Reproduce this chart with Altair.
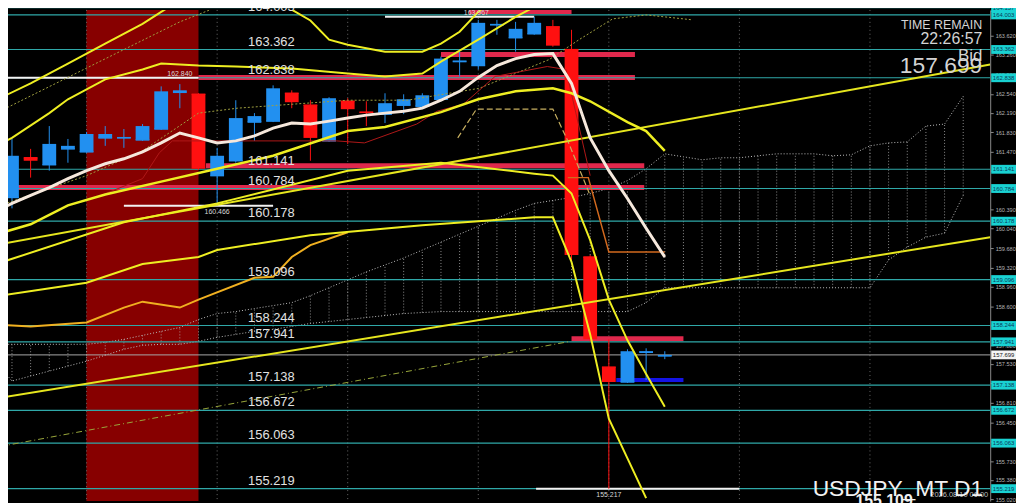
import altair as alt
import pandas as pd

# ---------------- candles (daily) ----------------
candle_idx = list(range(36))
opens = [160.618, 161.354, 161.225, 161.519, 161.464, 161.722, 161.722, 161.685, 161.887, 162.568,
         162.531, 161.023, 161.299, 162.016, 162.034, 162.550, 162.329, 161.667, 162.402, 162.200,
         162.163, 162.329, 162.310, 162.439, 163.138, 163.065, 163.819, 163.580, 163.653, 163.782,
         163.359, 159.514, 157.472, 157.196, 157.748, 157.680]
highs = [161.703, 161.519, 161.942, 161.703, 161.832, 161.942, 161.887, 161.979, 162.678, 162.720,
         162.550, 161.538, 162.421, 162.182, 162.697, 162.605, 162.421, 162.476, 162.458, 162.402,
         162.550, 162.531, 162.550, 163.230, 163.322, 163.911, 163.911, 163.874, 163.967, 163.911,
         163.727, 159.551, 157.987, 157.803, 157.821, 157.767]
lows = [160.416, 160.986, 161.115, 161.262, 161.446, 161.575, 161.538, 161.667, 161.869, 162.273,
        161.133, 160.466, 161.262, 161.667, 162.016, 162.273, 161.299, 161.648, 161.611, 161.942,
        161.998, 162.163, 162.292, 162.402, 162.862, 162.991, 163.635, 163.322, 163.635, 163.414,
        159.422, 157.950, 155.217, 157.178, 157.233, 157.620]
closes = [161.391, 161.299, 161.611, 161.575, 161.795, 161.795, 161.740, 161.942, 162.586, 162.605,
          161.151, 161.391, 162.090, 162.127, 162.642, 162.384, 161.722, 162.458, 162.255, 162.182,
          162.366, 162.439, 162.513, 163.193, 163.157, 163.856, 163.837, 163.745, 163.856, 163.433,
          159.551, 157.987, 157.196, 157.767, 157.767, 157.699]

# ---------------- indicator lines ----------------
ma_idx = list(range(-1, 36))
ma_vals = [160.342, 160.508, 160.655, 160.802, 160.967, 161.115, 161.243, 161.335, 161.464, 161.630,
           161.814, 161.722, 161.630, 161.667, 161.759, 161.905, 161.998, 161.979, 162.034, 162.090,
           162.145, 162.182, 162.218, 162.274, 162.421, 162.586, 162.844, 163.065, 163.193, 163.267,
           163.285, 162.734, 161.722, 161.115, 160.600, 160.048, 159.514]

bandC_idx = [-1, 1, 3, 5, 8, 11, 14, 18, 20, 23, 25, 27, 29, 30, 31, 33, 34, 35]
bandC_vals = [159.919, 160.121, 160.471, 160.673, 160.912, 161.151, 161.391, 161.850, 161.924, 162.200,
              162.439, 162.586, 162.642, 162.550, 162.402, 162.016, 161.850, 161.483]
bandB_idx = [-1, 6, 11, 18, 23, 28, 29, 30, 31, 32, 33, 34, 35]
bandB_vals = [159.367, 160.158, 160.508, 161.115, 161.262, 161.059, 161.023, 160.692, 159.827, 158.723,
              157.969, 157.344, 156.736]
bandD_idx = [-1, 4, 7, 10, 11, 16, 22, 28, 29, 30, 31, 32, 33, 34]
bandD_vals = [158.778, 159.036, 159.385, 159.514, 159.643, 159.919, 160.103, 160.250, 160.250, 159.422,
              158.079, 156.516, 155.780, 155.044]
bandE_idx = [-1, 1, 4, 6, 7, 9, 10, 13, 14, 15, 16, 18]
bandE_vals = [158.263, 158.226, 158.300, 158.576, 158.686, 158.576, 158.723, 159.128, 159.146, 159.514,
              159.735, 159.974]
upper1_idx = [-1, 0, 2, 3, 5, 7, 8, 10, 12, 15, 18, 20, 22, 23, 25, 27, 28, 29, 30]
upper1_vals = [161.556, 161.722, 162.182, 162.439, 162.807, 162.991, 163.101, 163.065, 163.046, 163.009,
               162.917, 162.862, 162.917, 163.138, 163.543, 163.966, 164.150, 164.242, 164.334]
upper2_idx = [-1, 1, 3, 5, 7, 8, 9, 12, 14, 16, 17, 18, 20, 22, 23, 24, 25, 26]
upper2_vals = [162.402, 162.733, 163.101, 163.469, 163.837, 164.058, 164.279, 164.400, 164.300, 163.900,
               163.543, 163.451, 163.322, 163.322, 163.469, 163.690, 164.058, 164.334]

trend_idx = [-0.638, 52.447]
trend_hi = [159.753, 163.083]
trend_lo = [156.902, 159.882]
dashdot_idx = [-0.638, 29.95]
dashdot_vals = [156.001, 157.951]

kijun_idx = [23.9, 24.9, 29.0, 29.8, 31.0]
kijun_vals = [161.722, 162.255, 162.255, 161.667, 160.655]
step_idx = [29.8, 30.9, 32.0, 35.0]
step_vals = [160.986, 160.986, 159.606, 159.606]
thinred_idx = [4.5, 7.0, 7.9, 8.6, 9.0, 17.4, 18.9, 21.7, 22.8, 24.2, 25.9, 28.7, 29.7, 31.0]
thinred_vals = [160.618, 160.967, 161.446, 161.667, 161.667, 161.667, 161.630, 161.979, 162.218, 162.347,
                162.862, 163.046, 162.991, 161.023]
dot1_idx = [-0.64, 4.7, 9.0, 11.0]
dot1_vals = [162.218, 163.138, 163.874, 164.150]
dot2_idx = [-0.64, 4.0, 7.0, 10.0, 12.1, 18.0, 21.2, 25.05, 28.8, 30.4, 32.2, 34.0, 36.5]
dot2_vals = [160.471, 161.023, 161.483, 162.182, 162.274, 162.421, 162.421, 162.642, 163.175, 163.543,
             163.929, 164.003, 163.911]

# ichimoku-like cloud
cloud_idx = list(range(-1, 52))
cloud_upper = [157.895, 157.895, 157.895, 157.895, 157.895, 157.895, 157.932, 157.987, 158.061, 158.135,
               158.208, 158.355, 158.466, 158.502, 158.558, 158.613, 158.668, 158.797, 158.944, 159.091,
               159.238, 159.367, 159.496, 159.643, 159.790, 159.937, 160.085, 160.232, 160.379, 160.508,
               160.563, 160.618, 160.692, 160.784, 160.931, 161.151, 161.427, 161.372, 161.317, 161.354,
               161.354, 161.391, 161.427, 161.427, 161.427, 161.391, 161.409, 161.575, 161.630, 161.648,
               161.942, 161.979, 162.494]
cloud_lower = [157.619, 157.215, 157.307, 157.399, 157.491, 157.583, 157.693, 157.803, 157.877, 157.895,
               157.895, 157.951, 158.024, 158.079, 158.135, 158.171, 158.227, 158.282, 158.318, 158.355,
               158.392, 158.429, 158.466, 158.484, 158.502, 158.502, 158.502, 158.502, 158.502, 158.502,
               158.502, 158.502, 158.502, 158.502, 158.502, 158.668, 158.944, 158.944, 158.944, 158.944,
               158.944, 158.944, 158.944, 158.944, 158.944, 158.944, 158.944, 158.944, 159.459, 159.698,
               159.882, 159.956, 160.655]

# ---------------- levels & annotations ----------------
level_prices = [164.137, 164.003, 163.362, 162.838, 161.141, 160.784, 160.178, 159.096, 158.244,
                157.941, 157.138, 156.672, 156.063, 155.219]
bid_price = 157.699
axis_ticks = [163.620, 163.260, 162.900, 162.540, 162.190, 161.830, 161.470, 161.110, 160.750, 160.390,
              160.040, 159.680, 159.320, 158.960, 158.600, 158.240, 157.880, 157.530, 157.170, 156.810,
              156.450, 156.090, 155.730, 155.380, 155.020]

redbar_price = [164.067, 163.267, 162.844, 161.207, 160.802, 157.997]
redbar_start = [24.5, 23.0, 10.0, 10.4, -0.64, 30.0]
redbar_end = [30.0, 33.4, 33.4, 33.9, 33.9, 36.0]
bluebar_price = [157.233]
bluebar_start = [32.4]
bluebar_end = [36.0]

mark_price = [162.840, 160.466, 163.967, 155.217]
mark_start = [-0.64, 6.0, 20.0, 28.1]
mark_end = [10.0, 14.0, 28.0, 39.0]
mark_label_idx = [9.0, 11.0, 24.9, 32.0]
mark_label_side = ["above", "below", "above", "below"]

band_start = [3.99]
band_end = [10.0]
grid_idx = [4, 11, 18, 25, 32, 39, 46]

symbols = ["USDJPY", "EURJPY", "GBPJPY", "AUDJPY", "GBPUSD"]

# ---------------- chart ----------------
W, H = 990, 495
xs = alt.Scale(domain=[-0.213, 52.447], nice=False, zero=False)
ys = alt.Scale(domain=[154.989, 164.095], nice=False, zero=False)
AX = alt.Axis(orient="right", values=axis_ticks, format=".3f", labelFontSize=5.6, labelColor="#b4b4b4",
              labelFont="Liberation Sans", tickColor="#8a8a8a", tickSize=3, tickWidth=1,
              domainColor="#8a8a8a", domainWidth=1, grid=False, title=None, labelPadding=2,
              labelFlush=False, labelOverlap=False)

BLUE = "#2290f0"
RED = "#ff1010"
TEAL = "#2fa8a8"
CRIMSON = "#e0284c"
FONT = "Liberation Sans"


def X(f):
    return alt.X(f, type="quantitative", scale=xs, axis=None)


def Y(f):
    return alt.Y(f, type="quantitative", scale=ys, axis=AX)


def poly(idx, vals, color, width, dash=None, opacity=1.0):
    df = pd.DataFrame({"i": idx, "p": vals})
    kw = dict(color=color, strokeWidth=width, clip=True, opacity=opacity)
    if dash:
        kw["strokeDash"] = dash
    return alt.Chart(df).mark_line(**kw).encode(x=X("i"), y=Y("p"), order="i:Q")


layers = []

band_df = pd.DataFrame({"i0": band_start, "i1": band_end})
layers.append(alt.Chart(band_df).mark_rect(color="#870000").encode(
    x=X("i0"), x2="i1", y=alt.value(0), y2=alt.value(H)))

grid_df = pd.DataFrame({"i": grid_idx})
layers.append(alt.Chart(grid_df).mark_rule(color="#6a6a6a", strokeWidth=1, strokeDash=[1, 3]).encode(
    x=X("i")))

cloud = pd.DataFrame({"i": cloud_idx, "a": cloud_upper, "b": cloud_lower})
layers.append(alt.Chart(cloud).mark_rule(color="#bdbdbd", strokeWidth=1, strokeDash=[1, 2], opacity=0.75,
                                         clip=True).encode(x=X("i"), y=Y("b"), y2="a"))
layers.append(alt.Chart(cloud).mark_line(color="#bdbdbd", strokeWidth=1, strokeDash=[1, 2], clip=True).encode(
    x=X("i"), y=Y("a"), order="i:Q"))
layers.append(alt.Chart(cloud).mark_line(color="#bdbdbd", strokeWidth=1, strokeDash=[1, 2], clip=True).encode(
    x=X("i"), y=Y("b"), order="i:Q"))

rb = pd.DataFrame({"p": redbar_price, "i0": redbar_start, "i1": redbar_end})
layers.append(alt.Chart(rb).mark_rule(color=CRIMSON, strokeWidth=5, clip=True).encode(
    x=X("i0"), x2="i1", y=Y("p")))
bb = pd.DataFrame({"p": bluebar_price, "i0": bluebar_start, "i1": bluebar_end})
layers.append(alt.Chart(bb).mark_rule(color="#1414e6", strokeWidth=4).encode(x=X("i0"), x2="i1", y=Y("p")))

lv = pd.DataFrame({"p": level_prices, "txt": [f"{v:.3f}" for v in level_prices]})
layers.append(alt.Chart(lv).mark_rule(color=TEAL, strokeWidth=1.2).encode(y=Y("p")))
bid_df = pd.DataFrame({"p": [bid_price], "txt": [f"{bid_price:.3f}"]})
layers.append(alt.Chart(bid_df).mark_rule(color="#a8a8a8", strokeWidth=1).encode(y=Y("p")))

mk = pd.DataFrame({"p": mark_price, "i0": mark_start, "i1": mark_end, "li": mark_label_idx,
                   "side": mark_label_side, "txt": [f"{v:.3f}" for v in mark_price]})
layers.append(alt.Chart(mk).mark_rule(color="#f2f2f2", strokeWidth=2, clip=True).encode(
    x=X("i0"), x2="i1", y=Y("p")))

# candles
cdf = pd.DataFrame({"i": candle_idx, "o": opens, "h": highs, "l": lows, "c": closes})
cdf["dir"] = ["up" if c >= o else "down" for o, c in zip(opens, closes)]
col = alt.Color("dir:N", scale=alt.Scale(domain=["up", "down"], range=[BLUE, RED]), legend=None)
base_c = alt.Chart(cdf).transform_calculate(a="datum.i - 0.37", b="datum.i + 0.37")
layers.append(base_c.mark_rule(strokeWidth=1).encode(x=X("i"), y=Y("l"), y2="h", color=col))
layers.append(base_c.mark_rect().encode(x=X("a"), x2="b", y=Y("o"), y2="c", color=col))
layers.append(base_c.mark_rule(strokeWidth=1.5).encode(x=X("a"), x2="b", y=Y("o"), color=col))

# indicators
layers.append(poly(trend_idx, trend_hi, "#e6e61e", 2))
layers.append(poly(trend_idx, trend_lo, "#e6e61e", 2))
layers.append(poly(dashdot_idx, dashdot_vals, "#9aa83c", 1, dash=[6, 3, 1, 3]))
layers.append(poly(dot1_idx, dot1_vals, "#a0a040", 1, dash=[2, 2]))
layers.append(poly(dot2_idx, dot2_vals, "#a0a040", 1, dash=[2, 2]))
layers.append(poly(thinred_idx, thinred_vals, "#b01818", 1))
layers.append(poly(kijun_idx, kijun_vals, "#c8b060", 1.2, dash=[6, 3]))
layers.append(poly(step_idx, step_vals, "#d2691e", 1.5))
layers.append(poly(bandE_idx, bandE_vals, "#f0b020", 2))
layers.append(poly(bandD_idx, bandD_vals, "#eeee22", 2))
layers.append(poly(bandB_idx, bandB_vals, "#eeee22", 2))
layers.append(poly(bandC_idx, bandC_vals, "#eeee22", 2.5))
layers.append(poly(upper1_idx, upper1_vals, "#eeee22", 2))
layers.append(poly(upper2_idx, upper2_vals, "#eeee22", 2))
layers.append(poly(ma_idx, ma_vals, "#f6e8dc", 3))

# level labels inside chart
lv_lab = lv[lv["p"] < 164.1]
layers.append(alt.Chart(lv_lab).mark_text(align="left", baseline="bottom", dy=-1, fontSize=13, font=FONT,
                                          color="#e2e2e2").encode(x=alt.value(242), y=Y("p"), text="txt"))

# high/low marker labels
layers.append(alt.Chart(mk[mk["side"] == "above"]).mark_text(baseline="bottom", dy=-1, fontSize=7, font=FONT,
                                                              color="#d8d8d8").encode(x=X("li"), y=Y("p"), text="txt"))
layers.append(alt.Chart(mk[mk["side"] == "below"]).mark_text(baseline="top", dy=2, fontSize=7, font=FONT,
                                                              color="#d8d8d8").encode(x=X("li"), y=Y("p"), text="txt"))

# right axis highlighted boxes
box = lv.copy()
layers.append(alt.Chart(box).transform_calculate(t="datum.p + 0.082", u="datum.p - 0.082").mark_rect(
    color="#19d2d2").encode(x=alt.value(W + 1), x2=alt.value(W + 26), y=Y("t"), y2="u"))
layers.append(alt.Chart(box).mark_text(fontSize=6, font=FONT, color="#0a3a5a", align="center",
                                       baseline="middle").encode(x=alt.value(W + 13.5), y=Y("p"), text="txt"))
layers.append(alt.Chart(bid_df).transform_calculate(t="datum.p + 0.082", u="datum.p - 0.082").mark_rect(
    color="#f4f4f4").encode(x=alt.value(W + 1), x2=alt.value(W + 26), y=Y("t"), y2="u"))
layers.append(alt.Chart(bid_df).mark_text(fontSize=6, font=FONT, color="#202020", align="center",
                                          baseline="middle").encode(x=alt.value(W + 13.5), y=Y("p"), text="txt"))

# info texts
info = pd.DataFrame({
    "txt": ["TIME REMAIN", "22:26:57", "Bid", f"{bid_price:.3f}"],
    "y": [19, 34, 51, 63.5],
    "s": [12.5, 16, 17, 23],
})
for _, r in info.iterrows():
    layers.append(alt.Chart(pd.DataFrame({"txt": [r["txt"]]})).mark_text(
        align="right", baseline="alphabetic", fontSize=float(r["s"]),
        font=FONT, color="#d4d4d4").encode(
        x=alt.value(982), y=alt.value(float(r["y"])), text="txt"))

layers.append(alt.Chart(pd.DataFrame({"txt": ["155.109"]})).mark_text(
    align="center", baseline="alphabetic", fontSize=16, fontWeight="bold", font=FONT, color="#f0f0f0").encode(
    x=alt.value(883), y=alt.value(500), text="txt"))
layers.append(alt.Chart(pd.DataFrame({"txt": ["2026.08.10 06:00"]})).mark_text(
    align="right", baseline="alphabetic", fontSize=7.5, font=FONT, color="#bdbdbd").encode(
    x=alt.value(988), y=alt.value(491), text="txt"))
layers.append(alt.Chart(pd.DataFrame({"txt": ["USDJPY_MT D1"]})).mark_text(
    align="right", baseline="alphabetic", fontSize=23, font=FONT, color="#f2f2f2").encode(
    x=alt.value(983), y=alt.value(490), text="txt"))

sym = pd.DataFrame({"txt": symbols, "px": [859, 889, 918, 946, 977]})
layers.append(alt.Chart(sym).mark_text(align="center", baseline="bottom", fontSize=5.5, font=FONT,
                                       color="#9a9a9a").encode(x=alt.X("px:Q", scale=None, axis=None),
                                                                y=alt.value(-4), text="txt"))

chart = alt.layer(*layers).properties(
    width=W, height=H, background="#000000",
    padding={"left": 0, "top": 0, "right": 26, "bottom": 0},
    autosize=alt.AutoSizeParams(type="none"),
).configure_view(stroke=None)

chart.save("out.html", embed_options={"renderer": "svg", "actions": False})
